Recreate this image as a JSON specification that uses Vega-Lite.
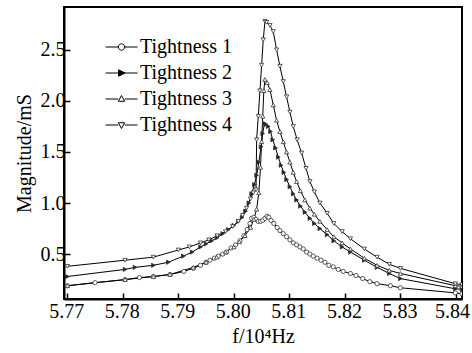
{
  "$schema": "https://vega.github.io/schema/vega-lite/v6.json",
  "autosize": "none",
  "width": 398,
  "height": 292,
  "padding": {"left": 64, "top": 7, "right": 10, "bottom": 54},
  "config": {
    "font": "Liberation Serif",
    "view": {"stroke": "black", "strokeWidth": 2},
    "axis": {"labelFont": "Liberation Serif", "titleFont": "Liberation Serif", "labelFontSize": 20, "titleFontSize": 20, "titleFontWeight": "normal", "labelColor": "black", "titleColor": "black", "domainColor": "black", "domainWidth": 2, "tickColor": "black", "tickWidth": 1.5, "grid": false}
  },
  "data": {"values": [
    {"s":"Tightness 1","f":5.7700,"m":0.19},{"s":"Tightness 1","f":5.7750,"m":0.22},{"s":"Tightness 1","f":5.7804,"m":0.25},{"s":"Tightness 1","f":5.7830,"m":0.27},{"s":"Tightness 1","f":5.7855,"m":0.28},{"s":"Tightness 1","f":5.7885,"m":0.30},{"s":"Tightness 1","f":5.7910,"m":0.33},{"s":"Tightness 1","f":5.7927,"m":0.36},{"s":"Tightness 1","f":5.7940,"m":0.39},{"s":"Tightness 1","f":5.7950,"m":0.42},{"s":"Tightness 1","f":5.7957,"m":0.44},{"s":"Tightness 1","f":5.7965,"m":0.46},{"s":"Tightness 1","f":5.7972,"m":0.48},{"s":"Tightness 1","f":5.7980,"m":0.50},{"s":"Tightness 1","f":5.7987,"m":0.52},{"s":"Tightness 1","f":5.7995,"m":0.56},{"s":"Tightness 1","f":5.8003,"m":0.59},{"s":"Tightness 1","f":5.8011,"m":0.63},{"s":"Tightness 1","f":5.8018,"m":0.68},{"s":"Tightness 1","f":5.8024,"m":0.74},{"s":"Tightness 1","f":5.8029,"m":0.80},{"s":"Tightness 1","f":5.8032,"m":0.85},{"s":"Tightness 1","f":5.8036,"m":0.86},{"s":"Tightness 1","f":5.8040,"m":0.84},{"s":"Tightness 1","f":5.8044,"m":0.82},{"s":"Tightness 1","f":5.8048,"m":0.82},{"s":"Tightness 1","f":5.8052,"m":0.83},{"s":"Tightness 1","f":5.8056,"m":0.85},{"s":"Tightness 1","f":5.8060,"m":0.87},{"s":"Tightness 1","f":5.8063,"m":0.86},{"s":"Tightness 1","f":5.8067,"m":0.83},{"s":"Tightness 1","f":5.8072,"m":0.80},{"s":"Tightness 1","f":5.8078,"m":0.76},{"s":"Tightness 1","f":5.8083,"m":0.73},{"s":"Tightness 1","f":5.8089,"m":0.70},{"s":"Tightness 1","f":5.8095,"m":0.67},{"s":"Tightness 1","f":5.8101,"m":0.64},{"s":"Tightness 1","f":5.8107,"m":0.61},{"s":"Tightness 1","f":5.8113,"m":0.59},{"s":"Tightness 1","f":5.8119,"m":0.57},{"s":"Tightness 1","f":5.8125,"m":0.55},{"s":"Tightness 1","f":5.8131,"m":0.52},{"s":"Tightness 1","f":5.8137,"m":0.50},{"s":"Tightness 1","f":5.8143,"m":0.48},{"s":"Tightness 1","f":5.8150,"m":0.46},{"s":"Tightness 1","f":5.8157,"m":0.44},{"s":"Tightness 1","f":5.8164,"m":0.42},{"s":"Tightness 1","f":5.8171,"m":0.39},{"s":"Tightness 1","f":5.8179,"m":0.375},{"s":"Tightness 1","f":5.8188,"m":0.35},{"s":"Tightness 1","f":5.8197,"m":0.33},{"s":"Tightness 1","f":5.8210,"m":0.31},{"s":"Tightness 1","f":5.8220,"m":0.29},{"s":"Tightness 1","f":5.8232,"m":0.26},{"s":"Tightness 1","f":5.8245,"m":0.23},{"s":"Tightness 1","f":5.8258,"m":0.21},{"s":"Tightness 1","f":5.8282,"m":0.19},{"s":"Tightness 1","f":5.8300,"m":0.17},{"s":"Tightness 1","f":5.8399,"m":0.12},{"s":"Tightness 1","f":5.8411,"m":0.11},

    {"s":"Tightness 2","f":5.7700,"m":0.28},{"s":"Tightness 2","f":5.7804,"m":0.35},{"s":"Tightness 2","f":5.7822,"m":0.37},{"s":"Tightness 2","f":5.7855,"m":0.39},{"s":"Tightness 2","f":5.7882,"m":0.42},{"s":"Tightness 2","f":5.7909,"m":0.48},{"s":"Tightness 2","f":5.7925,"m":0.52},{"s":"Tightness 2","f":5.7940,"m":0.57},{"s":"Tightness 2","f":5.7950,"m":0.60},{"s":"Tightness 2","f":5.7960,"m":0.63},{"s":"Tightness 2","f":5.7970,"m":0.66},{"s":"Tightness 2","f":5.7980,"m":0.70},{"s":"Tightness 2","f":5.7990,"m":0.74},{"s":"Tightness 2","f":5.8000,"m":0.78},{"s":"Tightness 2","f":5.8008,"m":0.82},{"s":"Tightness 2","f":5.8015,"m":0.86},{"s":"Tightness 2","f":5.8021,"m":0.92},{"s":"Tightness 2","f":5.8027,"m":1.00},{"s":"Tightness 2","f":5.8032,"m":1.09},{"s":"Tightness 2","f":5.8037,"m":1.18},{"s":"Tightness 2","f":5.8041,"m":1.27},{"s":"Tightness 2","f":5.8045,"m":1.40},{"s":"Tightness 2","f":5.8049,"m":1.55},{"s":"Tightness 2","f":5.8052,"m":1.68},{"s":"Tightness 2","f":5.8055,"m":1.78},{"s":"Tightness 2","f":5.8058,"m":1.77},{"s":"Tightness 2","f":5.8062,"m":1.75},{"s":"Tightness 2","f":5.8066,"m":1.70},{"s":"Tightness 2","f":5.8070,"m":1.62},{"s":"Tightness 2","f":5.8075,"m":1.54},{"s":"Tightness 2","f":5.8080,"m":1.45},{"s":"Tightness 2","f":5.8085,"m":1.37},{"s":"Tightness 2","f":5.8090,"m":1.30},{"s":"Tightness 2","f":5.8095,"m":1.23},{"s":"Tightness 2","f":5.8101,"m":1.16},{"s":"Tightness 2","f":5.8107,"m":1.09},{"s":"Tightness 2","f":5.8113,"m":1.03},{"s":"Tightness 2","f":5.8120,"m":0.97},{"s":"Tightness 2","f":5.8128,"m":0.91},{"s":"Tightness 2","f":5.8137,"m":0.85},{"s":"Tightness 2","f":5.8145,"m":0.80},{"s":"Tightness 2","f":5.8155,"m":0.75},{"s":"Tightness 2","f":5.8168,"m":0.69},{"s":"Tightness 2","f":5.8180,"m":0.63},{"s":"Tightness 2","f":5.8195,"m":0.57},{"s":"Tightness 2","f":5.8210,"m":0.52},{"s":"Tightness 2","f":5.8235,"m":0.44},{"s":"Tightness 2","f":5.8258,"m":0.37},{"s":"Tightness 2","f":5.8280,"m":0.31},{"s":"Tightness 2","f":5.8300,"m":0.26},{"s":"Tightness 2","f":5.8399,"m":0.16},{"s":"Tightness 2","f":5.8411,"m":0.155},

    {"s":"Tightness 3","f":5.7700,"m":0.19},{"s":"Tightness 3","f":5.7804,"m":0.25},{"s":"Tightness 3","f":5.7855,"m":0.28},{"s":"Tightness 3","f":5.7885,"m":0.30},{"s":"Tightness 3","f":5.7927,"m":0.37},{"s":"Tightness 3","f":5.7950,"m":0.42},{"s":"Tightness 3","f":5.7969,"m":0.47},{"s":"Tightness 3","f":5.7985,"m":0.52},{"s":"Tightness 3","f":5.8000,"m":0.57},{"s":"Tightness 3","f":5.8010,"m":0.62},{"s":"Tightness 3","f":5.8020,"m":0.68},{"s":"Tightness 3","f":5.8030,"m":0.76},{"s":"Tightness 3","f":5.8036,"m":0.84},{"s":"Tightness 3","f":5.8041,"m":0.94},{"s":"Tightness 3","f":5.8045,"m":1.10},{"s":"Tightness 3","f":5.8048,"m":1.35},{"s":"Tightness 3","f":5.8050,"m":1.60},{"s":"Tightness 3","f":5.8052,"m":1.85},{"s":"Tightness 3","f":5.8054,"m":2.10},{"s":"Tightness 3","f":5.8056,"m":2.21},{"s":"Tightness 3","f":5.8060,"m":2.18},{"s":"Tightness 3","f":5.8065,"m":2.11},{"s":"Tightness 3","f":5.8071,"m":1.96},{"s":"Tightness 3","f":5.8077,"m":1.81},{"s":"Tightness 3","f":5.8083,"m":1.70},{"s":"Tightness 3","f":5.8089,"m":1.60},{"s":"Tightness 3","f":5.8095,"m":1.50},{"s":"Tightness 3","f":5.8101,"m":1.40},{"s":"Tightness 3","f":5.8107,"m":1.30},{"s":"Tightness 3","f":5.8113,"m":1.21},{"s":"Tightness 3","f":5.8120,"m":1.12},{"s":"Tightness 3","f":5.8128,"m":1.03},{"s":"Tightness 3","f":5.8137,"m":0.95},{"s":"Tightness 3","f":5.8145,"m":0.89},{"s":"Tightness 3","f":5.8155,"m":0.82},{"s":"Tightness 3","f":5.8168,"m":0.74},{"s":"Tightness 3","f":5.8180,"m":0.67},{"s":"Tightness 3","f":5.8195,"m":0.61},{"s":"Tightness 3","f":5.8210,"m":0.55},{"s":"Tightness 3","f":5.8235,"m":0.46},{"s":"Tightness 3","f":5.8258,"m":0.39},{"s":"Tightness 3","f":5.8280,"m":0.34},{"s":"Tightness 3","f":5.8300,"m":0.31},{"s":"Tightness 3","f":5.8399,"m":0.19},{"s":"Tightness 3","f":5.8411,"m":0.185},

    {"s":"Tightness 4","f":5.7700,"m":0.38},{"s":"Tightness 4","f":5.7804,"m":0.44},{"s":"Tightness 4","f":5.7855,"m":0.47},{"s":"Tightness 4","f":5.7900,"m":0.54},{"s":"Tightness 4","f":5.7920,"m":0.57},{"s":"Tightness 4","f":5.7940,"m":0.61},{"s":"Tightness 4","f":5.7955,"m":0.64},{"s":"Tightness 4","f":5.7970,"m":0.68},{"s":"Tightness 4","f":5.7985,"m":0.72},{"s":"Tightness 4","f":5.7998,"m":0.77},{"s":"Tightness 4","f":5.8008,"m":0.82},{"s":"Tightness 4","f":5.8016,"m":0.88},{"s":"Tightness 4","f":5.8023,"m":0.95},{"s":"Tightness 4","f":5.8030,"m":1.04},{"s":"Tightness 4","f":5.8035,"m":1.10},{"s":"Tightness 4","f":5.8040,"m":1.13},{"s":"Tightness 4","f":5.8041,"m":1.62},{"s":"Tightness 4","f":5.8044,"m":1.85},{"s":"Tightness 4","f":5.8047,"m":2.10},{"s":"Tightness 4","f":5.8050,"m":2.35},{"s":"Tightness 4","f":5.8053,"m":2.60},{"s":"Tightness 4","f":5.8056,"m":2.78},{"s":"Tightness 4","f":5.8059,"m":2.77},{"s":"Tightness 4","f":5.8065,"m":2.74},{"s":"Tightness 4","f":5.8071,"m":2.68},{"s":"Tightness 4","f":5.8077,"m":2.50},{"s":"Tightness 4","f":5.8083,"m":2.34},{"s":"Tightness 4","f":5.8089,"m":2.19},{"s":"Tightness 4","f":5.8095,"m":2.04},{"s":"Tightness 4","f":5.8101,"m":1.89},{"s":"Tightness 4","f":5.8107,"m":1.75},{"s":"Tightness 4","f":5.8114,"m":1.62},{"s":"Tightness 4","f":5.8122,"m":1.49},{"s":"Tightness 4","f":5.8130,"m":1.34},{"s":"Tightness 4","f":5.8137,"m":1.21},{"s":"Tightness 4","f":5.8145,"m":1.11},{"s":"Tightness 4","f":5.8155,"m":1.00},{"s":"Tightness 4","f":5.8168,"m":0.90},{"s":"Tightness 4","f":5.8180,"m":0.80},{"s":"Tightness 4","f":5.8195,"m":0.72},{"s":"Tightness 4","f":5.8210,"m":0.65},{"s":"Tightness 4","f":5.8235,"m":0.55},{"s":"Tightness 4","f":5.8258,"m":0.47},{"s":"Tightness 4","f":5.8280,"m":0.40},{"s":"Tightness 4","f":5.8300,"m":0.36},{"s":"Tightness 4","f":5.8399,"m":0.21},{"s":"Tightness 4","f":5.8411,"m":0.20}
  ]},
  "encoding": {
    "x": {"field": "f", "type": "quantitative", "scale": {"domain": [5.7694, 5.8411], "nice": false, "zero": false},
      "axis": {"values": [5.77, 5.78, 5.79, 5.80, 5.81, 5.82, 5.83, 5.84], "format": ".2f", "tickSize": -6, "labelPadding": 8, "title": "f/10⁴Hz", "titlePadding": 5,
        "labelOffset": {"condition": {"test": "datum.value > 5.835", "value": -4}, "value": -1}}},
    "y": {"field": "m", "type": "quantitative", "scale": {"domain": [0.06, 2.92], "nice": false, "zero": false},
      "axis": {"values": [0.5, 1.0, 1.5, 2.0, 2.5], "format": ".1f", "tickSize": -6, "labelPadding": 5, "title": "Magnitude/mS", "titlePadding": 6}}
  },
  "layer": [
    {
      "mark": {"type": "line", "strokeWidth": 1, "clip": true},
      "encoding": {
        "stroke": {"field": "s", "type": "nominal", "scale": {"domain": ["Tightness 1", "Tightness 2", "Tightness 3", "Tightness 4"], "range": ["black", "black", "black", "black"]},
          "legend": {"title": null, "orient": "none", "legendX": 41, "legendY": 30, "symbolSize": 1024, "clipHeight": 20, "rowPadding": 6, "labelFont": "Liberation Serif", "labelFontSize": 20, "labelColor": "black", "labelOffset": 2, "symbolStrokeWidth": 1, "symbolStrokeColor": "black",
            "encode": {"symbols": {"update": {
              "shape": {"signal": "datum.value === 'Tightness 1' ? 'M-1,0H-0.2M0.2,0H1M0.2,0A0.2,0.2,0,1,1,-0.2,0A0.2,0.2,0,1,1,0.2,0Z' : datum.value === 'Tightness 2' ? 'M-1,0H1M-0.18,-0.2L0.22,0L-0.18,0.2Z' : datum.value === 'Tightness 3' ? 'M-1,0H-0.2M0.2,0H1M-0.2,0.14L0,-0.22L0.2,0.14Z' : 'M-1,0H-0.2M0.2,0H1M-0.2,-0.14L0,0.22L0.2,-0.14Z'"},
              "fill": {"signal": "datum.value === 'Tightness 2' ? 'black' : 'white'"},
              "stroke": {"value": "black"},
              "strokeWidth": {"value": 1}
            }}}}
        }
      }
    },
    {
      "mark": {"type": "point", "size": 18, "strokeWidth": 0.8, "opacity": 1, "clip": true, "stroke": "#333333"},
      "encoding": {
        "shape": {"condition": [{"test": "datum.s === 'Tightness 1'", "value": "circle"}, {"test": "datum.s === 'Tightness 2'", "value": "triangle-right"}, {"test": "datum.s === 'Tightness 3'", "value": "triangle-up"}], "value": "triangle-down"},
        "fill": {"condition": {"test": "datum.s === 'Tightness 2'", "value": "#222222"}, "value": "white"}
      }
    }
  ]
}
